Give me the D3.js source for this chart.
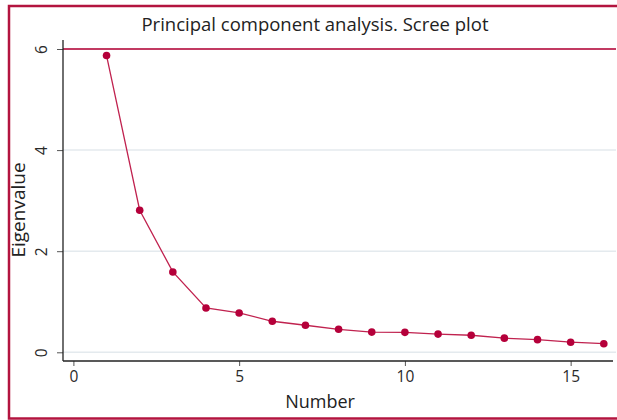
<!DOCTYPE html>
<html><head><meta charset="utf-8">
<script src="https://cdn.jsdelivr.net/npm/d3@7"></script>
<style>body{margin:0;background:#fff}svg{display:block}text{font-family:"Open Sans","Noto Sans",sans-serif}</style>
</head><body><svg id="c" width="617" height="420"></svg>
<script>
const numbers = [1,2,3,4,5,6,7,8,9,10,11,12,13,14,15,16];
const eigenvalues = [5.87,2.81,1.59,0.877,0.778,0.614,0.535,0.455,0.40,0.395,0.36,0.337,0.28,0.25,0.20,0.17];
const xTicks = [0,5,10,15];
const yTicks = [0,2,4,6];
const title = "Principal component analysis. Scree plot";
const xTitle = "Number";
const yTitle = "Eigenvalue";

const svg = d3.select("#c");
const x = d3.scaleLinear().domain([0,16]).range([73.4, 603.8]);
const y = d3.scaleLinear().domain([0,6]).range([352.3, 49]);
const axisLeftX = 63, axisBottomY = 361, plotRight = 616;

// frame
svg.append("rect").attr("x",9).attr("y",6).attr("width",620).attr("height",412.5)
  .attr("fill","none").attr("stroke","#b3143f").attr("stroke-width",2.5);

// gridlines
svg.append("g").selectAll("line").data(yTicks.filter(d=>d<6)).join("line")
  .attr("x1",axisLeftX).attr("x2",plotRight).attr("y1",d=>y(d)).attr("y2",d=>y(d))
  .attr("stroke","#e4eaee").attr("stroke-width",1.5);
// line at 6
svg.append("line").attr("x1",axisLeftX).attr("x2",plotRight).attr("y1",y(6)).attr("y2",y(6))
  .attr("stroke","#c23a62").attr("stroke-width",2);

// axes
const gx = svg.append("g").attr("transform",`translate(0,${axisBottomY})`)
  .call(d3.axisBottom(x).tickValues(xTicks).tickSize(5).tickPadding(5).tickFormat(d3.format("d")));
gx.select(".domain").remove();
gx.selectAll(".tick line").attr("stroke","#555");
gx.selectAll(".tick text").attr("font-size",15.5).attr("fill","#2a2a2a");
svg.append("line").attr("x1",axisLeftX).attr("x2",613).attr("y1",axisBottomY).attr("y2",axisBottomY)
  .attr("stroke","#222").attr("stroke-width",1.3);

const gy = svg.append("g").attr("transform",`translate(${axisLeftX},0)`)
  .call(d3.axisLeft(y).tickValues(yTicks).tickSize(6).tickPadding(5).tickFormat(d3.format("d")));
gy.select(".domain").remove();
gy.selectAll(".tick line").attr("stroke","#555");
gy.selectAll(".tick text").attr("font-size",15.5).attr("fill","#2a2a2a")
  .attr("text-anchor","middle").attr("dy",0).attr("x",null).attr("y",null)
  .attr("transform","translate(-16,0) rotate(-90)");
svg.append("line").attr("x1",axisLeftX).attr("x2",axisLeftX).attr("y1",40).attr("y2",axisBottomY)
  .attr("stroke","#222").attr("stroke-width",1.3);

// series
const pts = numbers.map((n,i)=>[n,eigenvalues[i]]);
svg.append("path").datum(pts)
  .attr("d",d3.line().x(d=>x(d[0])).y(d=>y(d[1])))
  .attr("fill","none").attr("stroke","#c0224f").attr("stroke-width",1.3);
svg.append("g").selectAll("circle").data(pts).join("circle")
  .attr("cx",d=>x(d[0])).attr("cy",d=>y(d[1])).attr("r",3.8).attr("fill","#b5003a");

// titles
svg.append("text").attr("x",315).attr("y",31).attr("text-anchor","middle")
  .attr("font-size",18.5).attr("fill","#222").text(title);
svg.append("text").attr("x",320).attr("y",408).attr("text-anchor","middle")
  .attr("font-size",18).attr("fill","#222").text(xTitle);
svg.append("text").attr("transform","translate(25,210) rotate(-90)").attr("text-anchor","middle")
  .attr("font-size",19).attr("fill","#222").text(yTitle);
</script></body></html>
